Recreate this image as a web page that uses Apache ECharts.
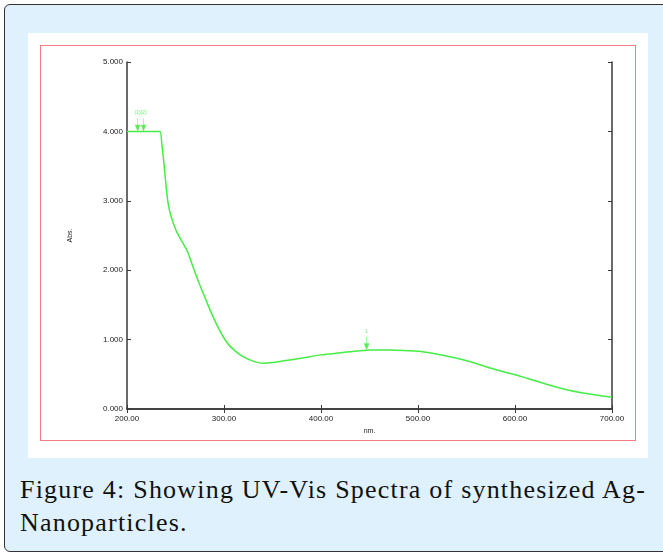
<!DOCTYPE html>
<html>
<head>
<meta charset="utf-8">
<script src="https://cdn.jsdelivr.net/npm/echarts@6/dist/echarts.min.js"></script>
<style>
  body { margin: 0; width: 663px; height: 557px; overflow: hidden; background: #fff; }
  #panel { position: absolute; left: 4px; top: 4px; width: 700px; height: 546px;
           background: #dff1fc; border: 1px solid #333; border-radius: 6px; }
  #white { position: absolute; left: 28px; top: 33px; width: 620px; height: 425px; background: #fff; }
  #chart { position: absolute; left: 40px; top: 45px; width: 594px; height: 394px;
           border: 1.5px solid #f27f7f; }
  #caption { position: absolute; left: 20px; top: 473px; width: 626px;
             font-family: "Liberation Serif", serif; font-size: 26px; line-height: 33px;
             letter-spacing: 1.2px; color: #111; text-align: justify; }
</style>
</head>
<body>
<div id="panel"></div>
<div id="white"></div>
<div id="chart"></div>
<div id="caption">Figure 4: Showing UV-Vis Spectra of synthesized Ag-Nanoparticles.</div>
<script>
// spectrum (nm, Abs.)
var wavelength = [200, 210, 220, 230, 234, 236, 238, 240, 242, 244, 246, 248, 251, 256, 262, 268, 275, 282, 289, 296,
                  304, 312, 320, 330, 340, 350, 360, 379, 400, 420, 440, 451, 470, 490, 503, 520, 540, 554, 570, 590,
                  606, 620, 647, 670, 700];
var absorbance = [4.0, 4.0, 4.0, 4.0, 4.0, 3.8, 3.55, 3.25, 3.0, 2.85, 2.75, 2.67, 2.56, 2.43, 2.28, 2.05, 1.79, 1.55, 1.32, 1.12,
                  0.94, 0.83, 0.75, 0.69, 0.66, 0.67, 0.69, 0.73, 0.78, 0.81, 0.84, 0.85, 0.85, 0.84, 0.83, 0.79, 0.73, 0.68, 0.61, 0.53,
                  0.47, 0.41, 0.30, 0.23, 0.17];
// peak picks
var peakNm = [211, 217, 447];
var peakAbs = [4.0, 4.0, 0.85];
var peakLabels = ['(1)', '(2)', '1'];

var chart = echarts.init(document.getElementById('chart'));
var green = '#44ee44';
var axisCol = '#3a3a3a';

var lineData = wavelength.map(function (w, i) { return [w, absorbance[i]]; });
var peakData = peakNm.map(function (w, i) {
    return { value: [w, peakAbs[i]], label: { formatter: peakLabels[i] } };
});

var arrowPath = 'path://M0,0 L0,10 M-2,6 L0,10 L2,6 Z';

chart.setOption({
    animation: false,
    grid: { left: 86, right: 23, top: 16, bottom: 26 },
    xAxis: [{
        type: 'value', min: 200, max: 700, interval: 100,
        axisLine: { lineStyle: { color: axisCol, width: 1.5 } },
        axisTick: { inside: true, length: 4, lineStyle: { color: axisCol } },
        splitLine: { show: false },
        axisLabel: { fontFamily: 'Liberation Sans', fontSize: 8, color: '#222', margin: 6,
                     formatter: function (v) { return v.toFixed(2); } },
        name: 'nm.', nameLocation: 'middle', nameGap: 19,
        nameTextStyle: { fontFamily: 'Liberation Sans', fontSize: 7, color: '#222' }
    }, {
        type: 'value', min: 200, max: 700, interval: 100, position: 'top',
        axisLine: { lineStyle: { color: axisCol, width: 1.5 } },
        axisTick: { inside: true, length: 4, lineStyle: { color: axisCol } },
        axisLabel: { show: false }, splitLine: { show: false }
    }],
    yAxis: [{
        type: 'value', min: 0, max: 5, interval: 1,
        axisLine: { show: true, lineStyle: { color: axisCol, width: 1.5 } },
        axisTick: { show: true, inside: true, length: 4, lineStyle: { color: axisCol } },
        splitLine: { show: false },
        axisLabel: { fontFamily: 'Liberation Sans', fontSize: 8, color: '#222', margin: 4,
                     formatter: function (v) { return v.toFixed(3); } },
        name: 'Abs.', nameLocation: 'middle', nameGap: 53, nameRotate: 90,
        nameTextStyle: { fontFamily: 'Liberation Sans', fontSize: 7, color: '#222' }
    }, {
        type: 'value', min: 0, max: 5, interval: 1, position: 'right',
        axisLine: { show: true, lineStyle: { color: axisCol, width: 1.5 } },
        axisTick: { show: true, inside: true, length: 4, lineStyle: { color: axisCol } },
        axisLabel: { show: false }, splitLine: { show: false }
    }],
    series: [{
        type: 'line',
        data: lineData,
        smooth: 0.3,
        showSymbol: false,
        lineStyle: { color: green, width: 1.5 },
        z: 3
    }, {
        type: 'scatter',
        data: peakData,
        symbol: arrowPath,
        symbolSize: [4, 12],
        symbolOffset: [0, -7],
        itemStyle: { color: green, borderColor: green, borderWidth: 1 },
        label: { show: true, position: 'top', distance: 2, fontSize: 5, color: green,
                 fontFamily: 'Liberation Sans' },
        z: 4
    }]
});
</script>
</body>
</html>
